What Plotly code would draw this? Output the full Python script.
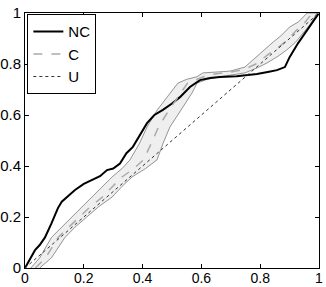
import plotly.graph_objects as go

# NC curve
nc_x = [0, 0.015, 0.034, 0.05, 0.068, 0.09, 0.105, 0.112, 0.125, 0.14, 0.17, 0.2, 0.228, 0.255, 0.279, 0.3,
        0.323, 0.345, 0.367, 0.39, 0.415, 0.44, 0.469, 0.5, 0.527, 0.561, 0.595, 0.63, 0.663, 0.72,
        0.789, 0.83, 0.857, 0.884, 0.90, 0.929, 0.952, 0.976, 1.0]
nc_y = [0, 0.03, 0.07, 0.09, 0.12, 0.175, 0.215, 0.235, 0.26, 0.275, 0.306, 0.33, 0.345, 0.36, 0.384, 0.39,
        0.41, 0.45, 0.475, 0.52, 0.568, 0.6, 0.62, 0.645, 0.67, 0.71, 0.737, 0.745, 0.749, 0.752,
        0.761, 0.77, 0.776, 0.788, 0.827, 0.882, 0.92, 0.96, 1.0]

# C band upper (left) edge
cu_x = [0.02, 0.05, 0.09, 0.125, 0.16, 0.2, 0.23, 0.265, 0.296, 0.33, 0.357, 0.39, 0.415, 0.45,
        0.493, 0.52, 0.55, 0.585, 0.605, 0.65, 0.697, 0.748, 0.8, 0.844, 0.87, 0.90, 0.93, 0.96, 1.0]
cu_y = [0.0, 0.04, 0.12, 0.16, 0.2, 0.245, 0.278, 0.32, 0.357, 0.39, 0.424, 0.49, 0.553, 0.62,
        0.686, 0.725, 0.74, 0.75, 0.765, 0.768, 0.772, 0.788, 0.843, 0.886, 0.91, 0.945, 0.965, 1.0, 1.0]

# C band lower (right) edge
cl_x = [0.05, 0.09, 0.136, 0.17, 0.21, 0.25, 0.296, 0.33, 0.364, 0.41, 0.449, 0.47, 0.493, 0.53,
        0.568, 0.585, 0.62, 0.663, 0.7, 0.748, 0.79, 0.823, 0.86, 0.89, 0.92, 0.946, 0.97, 0.993, 1.0]
cl_y = [0.0, 0.04, 0.12, 0.16, 0.2, 0.24, 0.278, 0.32, 0.357, 0.39, 0.424, 0.49, 0.553, 0.62,
        0.686, 0.725, 0.74, 0.75, 0.757, 0.765, 0.785, 0.804, 0.83, 0.855, 0.885, 0.92, 0.955, 1.0, 1.0]

# C centre (dashed)
c_x = [0.035, 0.07, 0.113, 0.148, 0.185, 0.225, 0.263, 0.298, 0.33, 0.37, 0.403, 0.43, 0.454, 0.49,
       0.53, 0.553, 0.585, 0.624, 0.652, 0.698, 0.745, 0.785, 0.83, 0.867, 0.895, 0.923, 0.95, 0.977, 1.0]
c_y = [0.0, 0.04, 0.12, 0.16, 0.2, 0.243, 0.278, 0.32, 0.357, 0.39, 0.424, 0.49, 0.553, 0.62,
       0.686, 0.725, 0.74, 0.757, 0.762, 0.768, 0.778, 0.8, 0.84, 0.87, 0.897, 0.932, 0.96, 1.0, 1.0]

# U (dotted)
u_x = [0, 1]
u_y = [0, 1]

tick_vals = [0, 0.2, 0.4, 0.6, 0.8, 1]
tick_text = ["0", "0.2", "0.4", "0.6", "0.8", "1"]

fig = go.Figure()
fig.add_trace(go.Scatter(x=cu_x + cl_x[::-1], y=cu_y + cl_y[::-1], fill="toself",
                         fillcolor="#efefef", line=dict(width=0), mode="lines",
                         showlegend=False, hoverinfo="skip"))
fig.add_trace(go.Scatter(x=cu_x, y=cu_y, mode="lines", line=dict(color="#7a7a7a", width=0.8),
                         showlegend=False))
fig.add_trace(go.Scatter(x=cl_x, y=cl_y, mode="lines", line=dict(color="#7a7a7a", width=0.8),
                         showlegend=False))
fig.add_trace(go.Scatter(x=nc_x, y=nc_y, mode="lines", name="NC",
                         line=dict(color="black", width=2)))
fig.add_trace(go.Scatter(x=c_x, y=c_y, mode="lines", name="C",
                         line=dict(color="#aaaaaa", width=1.5, dash="dash")))
fig.add_trace(go.Scatter(x=u_x, y=u_y, mode="lines", name="U",
                         line=dict(color="#333333", width=1, dash="dot")))

axis = dict(range=[0, 1], tickvals=tick_vals, ticktext=tick_text, showgrid=False, zeroline=False,
            showline=True, linecolor="black", linewidth=1, mirror="ticks", ticks="inside",
            ticklen=4, tickcolor="black", automargin=False,
            tickfont=dict(family="Liberation Sans", size=15, color="black"))
fig.update_layout(
    width=326, height=287,
    margin=dict(l=25, r=7, t=13, b=19),
    paper_bgcolor="white", plot_bgcolor="white",
    xaxis=dict(axis, ticklabelstandoff=-3,
               tickfont=dict(family="Liberation Sans", size=14, color="black")),
    yaxis=dict(axis, ticklabelstandoff=0),
    legend=dict(x=0.008, y=0.995, xanchor="left", yanchor="top", bgcolor="white",
                bordercolor="black", borderwidth=1,
                font=dict(family="Liberation Sans", size=15, color="black"),
                tracegroupgap=0, itemwidth=30),
    showlegend=True,
)
fig.write_html("out.html", config={"displayModeBar": False},
               post_script="document.body.style.margin='0';document.body.style.overflow='hidden';")
